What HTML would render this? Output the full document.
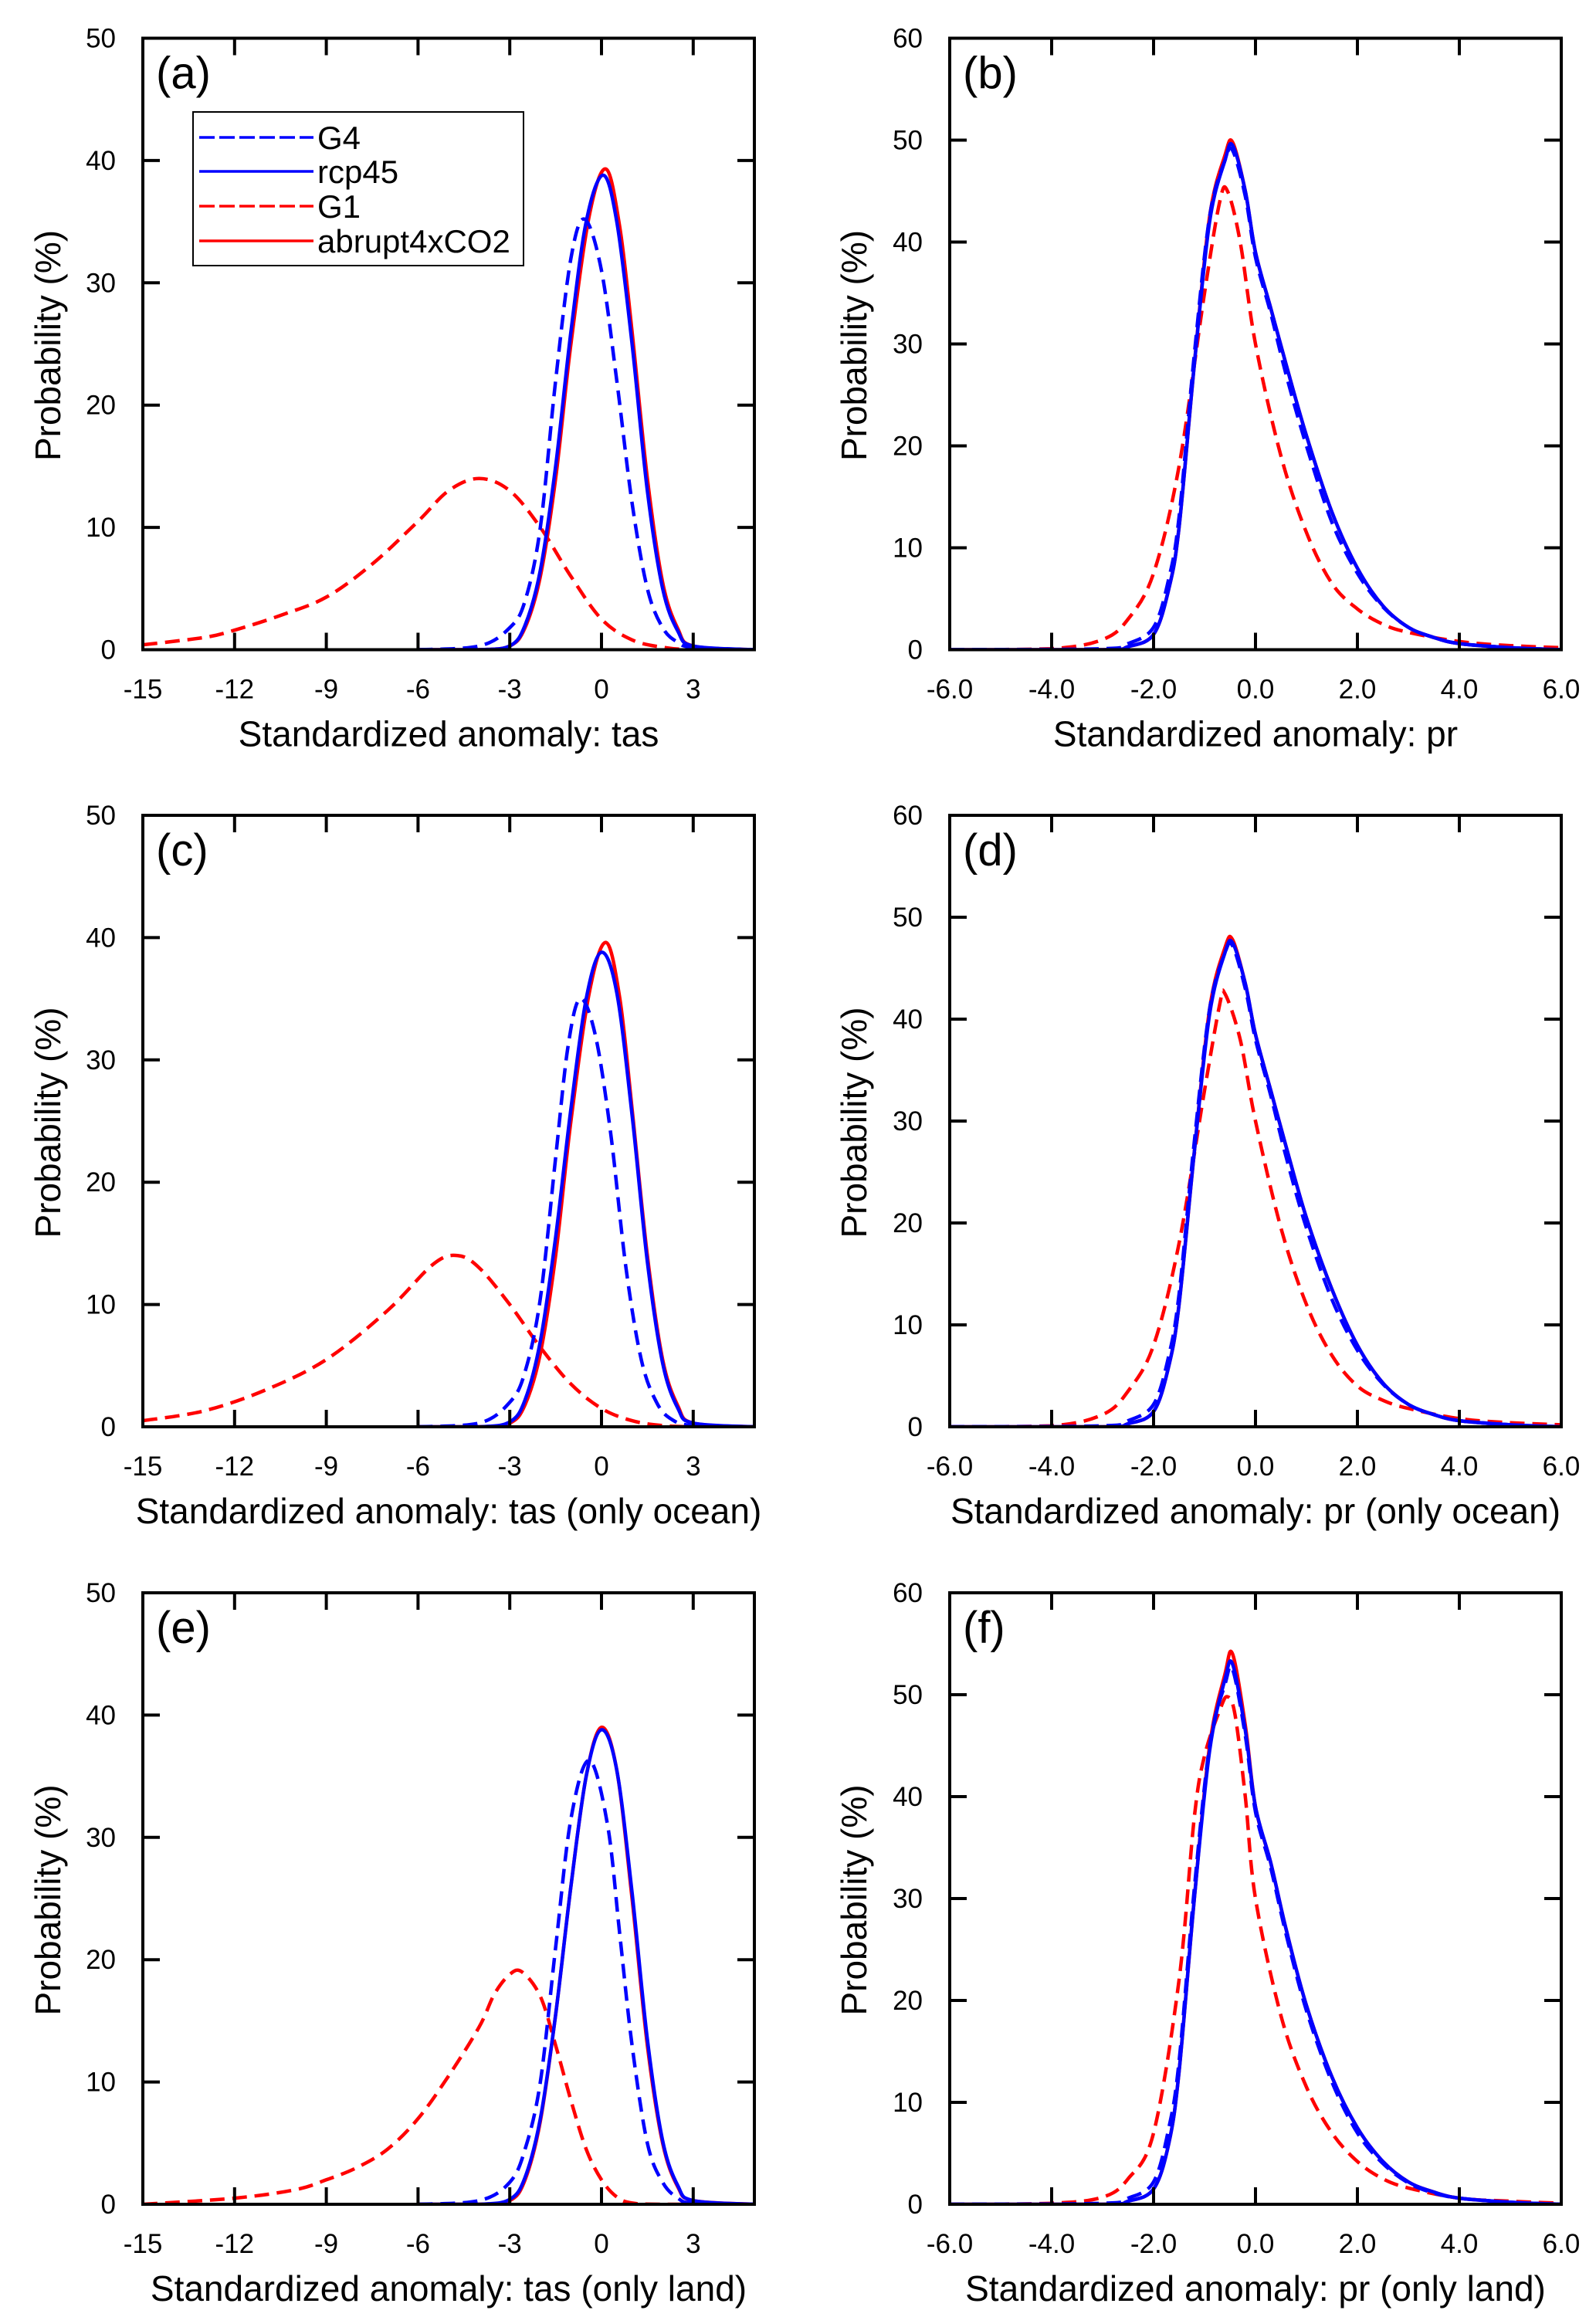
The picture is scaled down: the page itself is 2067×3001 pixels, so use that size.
<!DOCTYPE html>
<html><head><meta charset="utf-8">
<style>
html,body{margin:0;padding:0;background:#fff;}
svg{display:block;font-family:"Liberation Sans",sans-serif;}
</style></head>
<body>
<svg id="fig" width="2067" height="3001" viewBox="0 0 2067 3001" xmlns="http://www.w3.org/2000/svg"></svg>
<script>
// ---------- data ----------
// panel (a) tas
const aG1x=[-15,-13,-12,-10.5,-9,-7.5,-6,-5,-4,-3,-2,-1,0,1,2,3,5];
const aG1y=[0.4,1.0,1.6,2.8,4.3,7,10.5,13,14,13,10,6,2.5,0.8,0.2,0,0];
const aG4x=[-6,-4,-3,-2.5,-2,-1.5,-1,-0.55,0,0.5,1,1.5,2,2.5,3,5];
const aG4y=[0,0.3,1.8,4,10,22,32,35.2,31,22,12,5,1.8,0.6,0.2,0];
const aRx=[-6,-4,-3,-2.5,-2,-1.5,-1,-0.5,0.05,0.5,1,1.5,2,2.5,3,5];
const aRy=[0,0,0.3,2,6.5,15,26,35,38.8,35,25,13,5,1.5,0.3,0];
const aAx=[-6,-4,-3,-2.5,-2,-1.5,-1,-0.4,0.15,0.6,1,1.5,2,2.5,3,5];
const aAy=[0,0,0.3,1.8,6,14,25,35.5,39.3,34.5,26,14,5.5,1.7,0.3,0];
// panel (c) tas ocean
const cG1x=[-15,-13,-11,-9,-7,-5.5,-4.7,-4,-3,-2,-1,0,1,2,3,5];
const cG1y=[0.5,1.3,3,5.5,9.5,13.3,14,13,10,6.5,3.5,1.5,0.5,0.1,0,0];
const cG4x=[-6,-4,-3,-2.5,-2,-1.5,-1.1,-0.7,-0.2,0.3,0.8,1.3,1.8,2.3,3,5];
const cG4y=[0,0.3,2,4.5,10.5,22,31,35,32,24,13,5.5,2,0.6,0.1,0];
const cRx=[-6,-4,-3,-2.5,-2,-1.5,-1,-0.5,0,0.5,1,1.5,2,2.5,3,5];
const cRy=[0,0,0.4,2.2,7,15.5,26,35,38.8,35.5,25.5,13.5,5.2,1.5,0.3,0];
const cAx=[-6,-4,-3,-2.5,-2,-1.5,-1,-0.4,0.15,0.6,1,1.5,2,2.5,3,5];
const cAy=[0,0,0.3,1.8,6,14,25,35.5,39.6,35,26,14,5.5,1.7,0.3,0];
// panel (e) tas land
const eG1x=[-15,-12,-10,-9,-8,-7,-6,-5,-4,-3.5,-3,-2.6,-2,-1.5,-1,-0.5,0,0.5,1,2,5];
const eG1y=[0,0.5,1.2,2,3,4.5,7,10.5,14.5,17.2,18.8,19,17,13,8.5,4.5,2,0.6,0.1,0,0];
const eG4x=[-6,-4,-3,-2.5,-2,-1.5,-1,-0.4,0.2,0.6,1,1.5,2,2.5,3,5];
const eG4y=[0,0.3,1.8,4.5,10,21,31.5,36.3,31,22,13,5,1.8,0.5,0.1,0];
const eRx=[-6,-4,-3,-2.5,-2,-1.5,-1,-0.5,0,0.5,1,1.5,2,2.5,3,5];
const eRy=[0,0,0.4,2.2,7,15.5,26,35,38.8,35.5,25.5,13.5,5.2,1.5,0.3,0];
const eAx=[-6,-4,-3,-2.5,-2,-1.5,-1,-0.5,0,0.5,1,1.5,2,2.5,3,5];
const eAy=[0,0,0.3,2,6.8,15.5,26,35,39,35.5,25,13,5,1.4,0.3,0];
// panel (b) pr
const bG1x=[-6,-4,-3,-2.5,-2,-1.5,-1,-0.7,-0.55,-0.3,0,0.5,1,1.5,2,2.5,3,4,5,6];
const bG1y=[0,0.1,1,3,7.5,18,35,44,45,40,30,19,11.5,6.5,4,2.5,1.7,0.8,0.4,0.2];
const bRx=[-6,-3,-2.5,-2,-1.7,-1.5,-1.2,-0.9,-0.6,-0.45,-0.2,0,0.3,0.6,1,1.5,2,2.5,3,3.5,4,5,6];
const bG4y=[0,0.1,0.6,2.2,7,13,29,42.5,48,49,44.5,38.5,33,27,20,12.5,7.5,4.2,2.2,1.2,0.6,0.2,0];
const bRy=[0,0,0.3,1.5,6,12,28,42,48,49.5,45,39,33.5,28,21,13.5,8,4.3,2.2,1.2,0.6,0.2,0];
const bAy=[0,0,0.3,1.5,6,12,28,42.5,48.5,49.8,45,39,33.5,28,21,13.5,8,4.3,2.2,1.2,0.6,0.2,0];
// panel (d) pr ocean
const dG1x=[-6,-4,-3,-2.5,-2,-1.5,-1,-0.7,-0.6,-0.3,0,0.5,1,1.5,2,2.5,3,4,5,6];
const dG1y=[0,0.1,1.2,3.5,8,18,33,41.5,42.5,38,30,19.5,12,7,4,2.6,1.8,0.8,0.4,0.2];
const dG4y=[0,0.1,0.6,2.2,7,13,28,41,46.5,47.2,43,38,32.5,26.5,19.5,12.5,7.5,4.2,2.2,1.2,0.6,0.2,0];
const dRy=[0,0,0.3,1.5,6,12,27,40.5,46.5,47.5,43.5,38.5,33,27.5,20.5,13.5,8,4.3,2.2,1.2,0.6,0.2,0];
const dAy=[0,0,0.3,1.5,6,12,27,41,47,47.8,43.5,38.5,33,27.5,20.5,13.5,8,4.3,2.2,1.2,0.6,0.2,0];
// panel (f) pr land
const fG1x=[-6,-4,-3,-2.5,-2,-1.5,-1.2,-1,-0.7,-0.55,-0.4,-0.2,0,0.5,1,1.5,2,2.5,3,4,5,6];
const fG1y=[0,0.1,0.7,2.5,7,22,38,44,48.5,49.8,48,40,30,18.5,11.5,7,4.2,2.5,1.6,0.6,0.3,0.1];
const fG4y=[0,0.1,0.6,2.2,7.5,14,31,45,51,52.5,46,38.5,33,26.5,19,12,7,4,2.1,1.1,0.6,0.2,0];
const fRy=[0,0,0.3,1.5,6,13,30,44.5,51.5,53,46.5,39,33.5,27,19.5,12.5,7.5,4.2,2.2,1.2,0.6,0.2,0];
const fAy=[0,0,0.3,1.5,6,13,30,45,52,54,47,39,33.5,27,19.5,12.5,7.5,4.2,2.2,1.2,0.6,0.2,0];

const tasTicks=[-15,-12,-9,-6,-3,0,3];
const tasTickLabels=["-15","-12","-9","-6","-3","0","3"];
const prTicks=[-6,-4,-2,0,2,4,6];
const prTickLabels=["-6.0","-4.0","-2.0","0.0","2.0","4.0","6.0"];
const tasYTicks=[0,10,20,30,40,50];
const prYTicks=[0,10,20,30,40,50,60];

// ---------- drawing ----------
const NS="http://www.w3.org/2000/svg";
const svg=document.getElementById('fig');
function mk(tag,attrs,parent){const e=document.createElementNS(NS,tag);for(const k in attrs)e.setAttribute(k,attrs[k]);(parent||svg).appendChild(e);return e;}
let BOT=0;
function pathFrom(px,py){
  let d="M"+px[0].toFixed(1)+","+py[0].toFixed(1);
  for(let i=0;i<px.length-1;i++){
    const x0=px[Math.max(i-1,0)],y0=py[Math.max(i-1,0)],x1=px[i],y1=py[i],x2=px[i+1],y2=py[i+1],x3=px[Math.min(i+2,px.length-1)],y3=py[Math.min(i+2,py.length-1)];
    const c1x=x1+(x2-x0)/6,c1y=y1+(y2-y0)/6,c2x=x2-(x3-x1)/6,c2y=y2-(y3-y1)/6;
    d+=" C"+c1x.toFixed(1)+","+Math.min(c1y,BOT).toFixed(1)+" "+c2x.toFixed(1)+","+Math.min(c2y,BOT).toFixed(1)+" "+x2.toFixed(1)+","+y2.toFixed(1);
  }
  return d;
}
const tops=[49.5,1056,2063], H=792, W=792;
function panel(cfg){
  const g=mk('g',{});
  
  
  const L=cfg.left,R=cfg.left+W,T=cfg.top,B=cfg.top+H;BOT=B;
  const sx=v=>L+(v-cfg.xmin)/(cfg.xmax-cfg.xmin)*(R-L);
  const sy=v=>B-v/cfg.ymax*H;
  const cp=mk('clipPath',{id:'clip'+cfg.id},g);mk('rect',{x:L,y:T,width:R-L,height:H},cp);
  const cg=mk('g',{'clip-path':'url(#clip'+cfg.id+')'},g);
  cfg.series.forEach(s=>{
    const p=mk('path',{d:pathFrom(s.x.map(sx),s.y.map(sy)),fill:'none',stroke:s.c,'stroke-width':4.5,'stroke-dasharray':s.dash?'19,10':'none','stroke-linejoin':'round'},cg);
    
    
  });
  const fr=mk('rect',{x:L,y:T,width:R-L,height:H,fill:'none',stroke:'#000','stroke-width':4},g);
  
  
  cfg.xt.forEach((v,i)=>{
    const x=sx(v);
    mk('line',{x1:x,y1:B,x2:x,y2:B-22,stroke:'#000','stroke-width':4},g);
    mk('line',{x1:x,y1:T,x2:x,y2:T+22,stroke:'#000','stroke-width':4},g);
    const t=mk('text',{x:x,y:B+63,'font-size':35,'text-anchor':'middle'},g);t.textContent=cfg.xl[i];
    
    
  });
  cfg.yt.forEach(v=>{
    const y=sy(v);
    mk('line',{x1:L,y1:y,x2:L+22,y2:y,stroke:'#000','stroke-width':4},g);
    mk('line',{x1:R,y1:y,x2:R-22,y2:y,stroke:'#000','stroke-width':4},g);
    const t=mk('text',{x:L-35,y:y+12,'font-size':35,'text-anchor':'end'},g);t.textContent=String(v);
    
    
  });
  const xt=mk('text',{x:cfg.tcx,y:B+125,'font-size':46,'text-anchor':'middle'},g);xt.textContent=cfg.title;
  
  
  const yx=cfg.ytx,yy=T+398;
  const yt=mk('text',{x:yx,y:yy,'font-size':46,'text-anchor':'middle',transform:'rotate(-90 '+yx+' '+yy+')'},g);yt.textContent='Probability (%)';
  
  
  const pl=mk('text',{x:L+17,y:T+65,'font-size':58},g);pl.textContent='('+cfg.id+')';
  
  
}
function ser(g1x,g1y,g4x,g4y,rx,ry,ax,ay){
  return [{n:'g1',x:g1x,y:g1y,c:'#ff0000',dash:true},{n:'abrupt4xco2',x:ax,y:ay,c:'#ff0000',dash:false},
          {n:'rcp45',x:rx,y:ry,c:'#0000ff',dash:false},{n:'g4',x:g4x,y:g4y,c:'#0000ff',dash:true}];
}
const tasBase={left:185,xmin:-15,xmax:5,ymax:50,xt:tasTicks,xl:tasTickLabels,yt:tasYTicks,tcx:581,ytx:78};
const prBase={left:1230,xmin:-6,xmax:6,ymax:60,xt:prTicks,xl:prTickLabels,yt:prYTicks,tcx:1626,ytx:1122};
panel(Object.assign({},tasBase,{id:'a',top:tops[0],title:'Standardized anomaly: tas',series:ser(aG1x,aG1y,aG4x,aG4y,aRx,aRy,aAx,aAy)}));
panel(Object.assign({},prBase,{id:'b',top:tops[0],title:'Standardized anomaly: pr',series:ser(bG1x,bG1y,bRx,bG4y,bRx,bRy,bRx,bAy)}));
panel(Object.assign({},tasBase,{id:'c',top:tops[1],title:'Standardized anomaly: tas (only ocean)',series:ser(cG1x,cG1y,cG4x,cG4y,cRx,cRy,cAx,cAy)}));
panel(Object.assign({},prBase,{id:'d',top:tops[1],title:'Standardized anomaly: pr (only ocean)',series:ser(dG1x,dG1y,bRx,dG4y,bRx,dRy,bRx,dAy)}));
panel(Object.assign({},tasBase,{id:'e',top:tops[2],title:'Standardized anomaly: tas (only land)',series:ser(eG1x,eG1y,eG4x,eG4y,eRx,eRy,eAx,eAy)}));
panel(Object.assign({},prBase,{id:'f',top:tops[2],title:'Standardized anomaly: pr (only land)',series:ser(fG1x,fG1y,bRx,fG4y,bRx,fRy,bRx,fAy)}));

// legend in panel (a)
const lg=mk('g',{});


mk('rect',{x:250,y:145,width:428,height:199,fill:'#fff',stroke:'#000','stroke-width':2},lg);
const legNames=['G4','rcp45','G1','abrupt4xCO2'];
const legColors=['#0000ff','#0000ff','#ff0000','#ff0000'];
const legDash=[true,false,true,false];
const legY=[178,222,267,312];
legNames.forEach((n,i)=>{
  const e=mk('g',{},lg);
  
  
  mk('line',{x1:258,y1:legY[i],x2:406,y2:legY[i],stroke:legColors[i],'stroke-width':3.5,'stroke-dasharray':legDash[i]?'20,6':'none'},e);
  const t=mk('text',{x:411,y:legY[i]+15,'font-size':42},e);t.textContent=n;
});
</script>
</body></html>
